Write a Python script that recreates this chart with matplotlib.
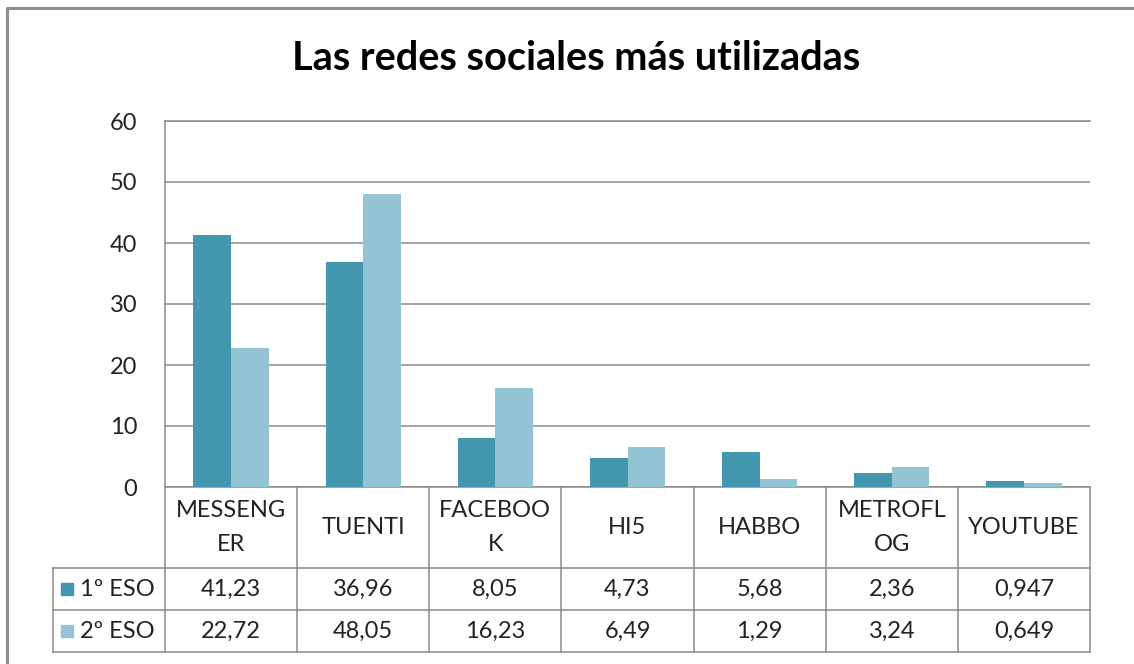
"""Las redes sociales más utilizadas: grouped bars with a data table underneath."""

import matplotlib

matplotlib.use("Agg")
import matplotlib.pyplot as plt

categories = ["MESSENGER", "TUENTI", "FACEBOOK", "HI5", "HABBO", "METROFLOG", "YOUTUBE"]
col_labels = ["MESSENG\nER", "TUENTI", "FACEBOO\nK", "HI5", "HABBO", "METROFL\nOG", "YOUTUBE"]
series_names = ["1º ESO", "2º ESO"]
eso1 = [41.23, 36.96, 8.05, 4.73, 5.68, 2.36, 0.947]
eso2 = [22.72, 48.05, 16.23, 6.49, 1.29, 3.24, 0.649]
yticks = [0, 10, 20, 30, 40, 50, 60]

colors = ["#4398B0", "#93C3D5"]
grid_c = "#8a8a8a"
txt_c = "#222222"
W, H = 1134, 664
FS = 17

plt.rcParams["font.family"] = ["Lato", "DejaVu Sans"]

fig = plt.figure(figsize=(W / 100, H / 100), dpi=100)

# outer chart frame (clipped on right/bottom like the screenshot)
frame = fig.add_axes([0, 0, 1, 1])
frame.set_xlim(0, W)
frame.set_ylim(H, 0)
frame.axis("off")
frame.plot([7, 7, W + 5], [H + 5, 8, 8], color="#8c8c8c", lw=2.2, solid_capstyle="butt")

fig.text(576 / W, 1 - 58 / H, "Las redes sociales más utilizadas",
         ha="center", va="center", fontsize=28.5, fontweight="bold")

# plot area in pixels: x 165..1090, y 121..487
px0, px1, py0, py1 = 165, 1090, 121, 487
ax = fig.add_axes([px0 / W, 1 - py1 / H, (px1 - px0) / W, (py1 - py0) / H])
n = len(categories)
x = list(range(n))
bw = 0.285
ax.bar([i - bw / 2 for i in x], eso1, width=bw, color=colors[0], zorder=3)
ax.bar([i + bw / 2 for i in x], eso2, width=bw, color=colors[1], zorder=3)
ax.set_xlim(-0.5, n - 0.5)
ax.set_ylim(yticks[0], yticks[-1])
ax.set_yticks(yticks)
ax.set_yticklabels([str(t) for t in yticks], fontsize=FS, color=txt_c)
ax.tick_params(axis="y", length=0, pad=20)
ax.set_xticks([])
ax.grid(axis="y", color=grid_c, lw=1.1, zorder=0)
for s in ax.spines.values():
    s.set_color(grid_c)
    s.set_linewidth(1.1)
ax.spines["right"].set_visible(False)

# data table below the plot: x 53..1090, rows 487 | 568 | 610 | 652
cat_w = (px1 - px0) / n
leg_left = -0.5 - (px0 - 53) / cat_w
row_edges = [0, 81, 123, 165]
tx = fig.add_axes([53 / W, 1 - 652 / H, (px1 - 53) / W, (652 - 487) / H])
tx.set_xlim(leg_left, n - 0.5)
tx.set_ylim(row_edges[-1], 0)
tx.axis("off")

lkw = dict(color=grid_c, lw=1.1, clip_on=False)
for i in range(n + 1):
    tx.plot([i - 0.5, i - 0.5], [row_edges[0], row_edges[-1]], **lkw)
tx.plot([leg_left, leg_left], [row_edges[1], row_edges[-1]], **lkw)
for r in row_edges[1:]:
    tx.plot([leg_left, n - 0.5], [r, r], **lkw)

tkw = dict(ha="center", va="center", fontsize=FS, color=txt_c)
for i, lab in enumerate(col_labels):
    tx.text(i, (row_edges[0] + row_edges[1]) / 2, lab, linespacing=1.75, **tkw)

for r, (name, vals) in enumerate(zip(series_names, [eso1, eso2])):
    yc = (row_edges[r + 1] + row_edges[r + 2]) / 2
    for i, v in enumerate(vals):
        tx.text(i, yc, str(v).replace(".", ","), **tkw)
    tx.plot(leg_left + 14 / cat_w, yc, marker="s", ms=8.5, color=colors[r],
            linestyle="none", clip_on=False)
    tx.text(leg_left + 27 / cat_w, yc, name, ha="left", va="center",
            fontsize=FS, color=txt_c)

fig.savefig("out.png", dpi=100)
